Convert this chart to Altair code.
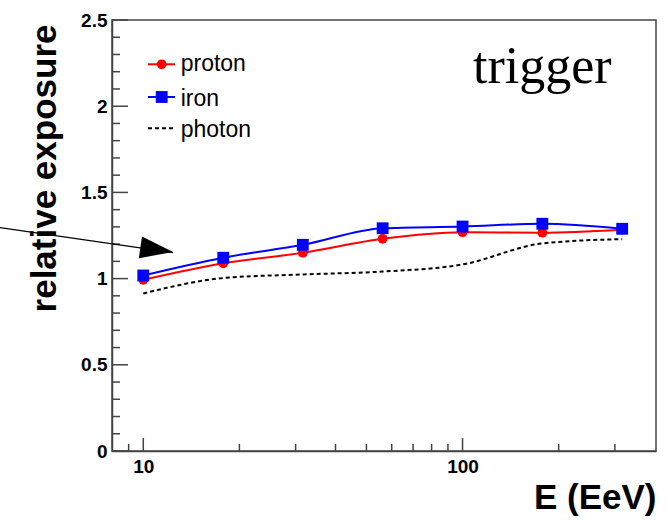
import altair as alt
import pandas as pd

# Energy bins (EeV) and relative trigger exposure per primary
energy = [10.0, 17.8, 31.6, 56.2, 100.0, 177.8, 316.2]
proton = [0.993, 1.089, 1.150, 1.231, 1.269, 1.266, 1.283]
iron = [1.018, 1.121, 1.196, 1.292, 1.302, 1.318, 1.289]
photon = [0.914, 1.003, 1.024, 1.041, 1.082, 1.204, 1.229]

series_names = ["proton", "iron", "photon"]
panel_label = "trigger"

# Axis tick positions
y_major = [0.0, 0.5, 1.0, 1.5, 2.0, 2.5]
y_minor = [round(0.1 * i, 1) for i in range(26) if i % 5]
x_major = [10, 100]
x_minor = [9, 20, 30, 40, 50, 60, 70, 80, 90, 200, 300]

# Annotation arrow (data coordinates)
arrow_start = {"E": 3.55, "v": 1.296}
arrow_tip = {"E": 12.39, "v": 1.151}
arrow_head = {"E": 11.02, "v": 1.168}

W, H = 544, 431
SANS = "Liberation Sans"
FRAME = "#444444"

x_scale = alt.Scale(type="log", domain=[7.98, 403.6], nice=False)
y_scale = alt.Scale(domain=[0, 2.5], nice=False)

df = pd.DataFrame({"E": energy, "proton": proton, "iron": iron, "photon": photon})

x_axis = alt.Axis(
    values=x_major, format="~g", ticks=False, grid=False,
    domainColor=FRAME, domainWidth=1.5,
    labelFont=SANS, labelFontWeight="bold", labelFontSize=19, labelColor="black",
    labelPadding=6, labelFlush=False,
    title="E (EeV)", titleFont=SANS, titleFontWeight="bold", titleFontSize=35,
    titleColor="black", titleAnchor="end", titleAlign="right",
    titleBaseline="alphabetic", titleX=W, titleY=57,
)
y_axis = alt.Axis(
    values=y_major, format="~g", ticks=False, grid=False,
    domainColor=FRAME, domainWidth=1.5,
    labelFont=SANS, labelFontWeight="bold", labelFontSize=19, labelColor="black",
    labelPadding=5, labelFlush=False,
    title="relative exposure", titleFont=SANS, titleFontWeight="bold", titleFontSize=35,
    titleColor="black", titleAngle=270, titleAlign="right",
    titleBaseline="alphabetic", titleX=-57, titleY=4,
)


def X(field):
    return alt.X(field, scale=x_scale, axis=x_axis)


def Y(field):
    return alt.Y(field, scale=y_scale, axis=y_axis)


base = alt.Chart(df)

proton_line = base.mark_line(color="#ff0000", strokeWidth=2, interpolate="monotone").encode(
    x=X("E:Q"), y=Y("proton:Q"))
iron_line = base.mark_line(color="#0000ff", strokeWidth=2, interpolate="monotone").encode(
    x=X("E:Q"), y=Y("iron:Q"))
photon_line = base.mark_line(
    color="black", strokeWidth=2, strokeDash=[4, 3], interpolate="monotone"
).encode(x=X("E:Q"), y=Y("photon:Q"))
proton_pts = base.mark_point(shape="circle", filled=True, color="#ff0000", size=95, opacity=1).encode(
    x=X("E:Q"), y=Y("proton:Q"))
iron_pts = base.mark_point(shape="square", filled=True, color="#0000ff", size=140, opacity=1).encode(
    x=X("E:Q"), y=Y("iron:Q"))

# Inward-pointing tick marks
y_major_ticks = alt.Chart(pd.DataFrame({"t": y_major})).mark_rule(color=FRAME, strokeWidth=1.5).encode(
    y=Y("t:Q"), x=alt.value(0), x2=alt.value(16))
y_minor_ticks = alt.Chart(pd.DataFrame({"t": y_minor})).mark_rule(color=FRAME, strokeWidth=1.5).encode(
    y=Y("t:Q"), x=alt.value(0), x2=alt.value(8))
x_major_ticks = alt.Chart(pd.DataFrame({"t": x_major})).mark_rule(color=FRAME, strokeWidth=1.5).encode(
    x=X("t:Q"), y=alt.value(H), y2=alt.value(H - 13))
x_minor_ticks = alt.Chart(pd.DataFrame({"t": x_minor})).mark_rule(color=FRAME, strokeWidth=1.5).encode(
    x=X("t:Q"), y=alt.value(H), y2=alt.value(H - 7))

# Arrow annotation
arrow_line = alt.Chart(pd.DataFrame([{
    "E": arrow_start["E"], "v": arrow_start["v"], "E2": arrow_tip["E"], "v2": arrow_tip["v"]
}])).mark_rule(color="black", strokeWidth=1.2).encode(
    x=X("E:Q"), y=Y("v:Q"), x2="E2:Q", y2="v2:Q")
arrow_tri = alt.Chart(pd.DataFrame([arrow_head])).mark_point(
    shape="M-1,-0.667L1,0L-1,0.667Z", filled=True, color="black", opacity=1,
    size=1089, angle=8.1, strokeWidth=0,
).encode(x=X("E:Q"), y=Y("v:Q"))

# Hand-drawn legend in the upper left of the frame
one = alt.Data(values=[{}])
leg = []
rows = [(44.3, 50.7), (77.0, 86.0), (108.3, 116.7)]
styles = [("#ff0000", "circle", 95, None), ("#0000ff", "square", 140, None), ("black", None, 0, [4, 3])]
for name, (ly, ty), (col, shp, sz, dash) in zip(series_names, rows, styles):
    rule_kw = dict(color=col, strokeWidth=2)
    if dash:
        rule_kw["strokeDash"] = dash
    leg.append(alt.Chart(one).mark_rule(**rule_kw).encode(
        x=alt.value(36), x2=alt.value(63), y=alt.value(ly)))
    if shp:
        leg.append(alt.Chart(one).mark_point(shape=shp, filled=True, color=col, size=sz, opacity=1).encode(
            x=alt.value(49.7), y=alt.value(ly)))
    leg.append(alt.Chart(one).mark_text(
        text=name, font=SANS, fontSize=23, align="left", baseline="alphabetic", color="black"
    ).encode(x=alt.value(68.7), y=alt.value(ty)))

label = alt.Chart(one).mark_text(
    text=panel_label, font="Liberation Serif", fontSize=52, align="left",
    baseline="alphabetic", color="black",
).encode(x=alt.value(361), y=alt.value(63))

chart = alt.layer(
    proton_line, iron_line, photon_line, proton_pts, iron_pts,
    y_major_ticks, y_minor_ticks, x_major_ticks, x_minor_ticks,
    arrow_line, arrow_tri, label, *leg,
).properties(
    width=W, height=H,
    autosize=alt.AutoSizeParams(type="none"),
    padding={"left": 112, "top": 20, "right": 12, "bottom": 70},
    background="white",
).configure_view(stroke=FRAME, strokeWidth=1.5)

chart.save("out.html", embed_options={"renderer": "svg", "actions": False})
